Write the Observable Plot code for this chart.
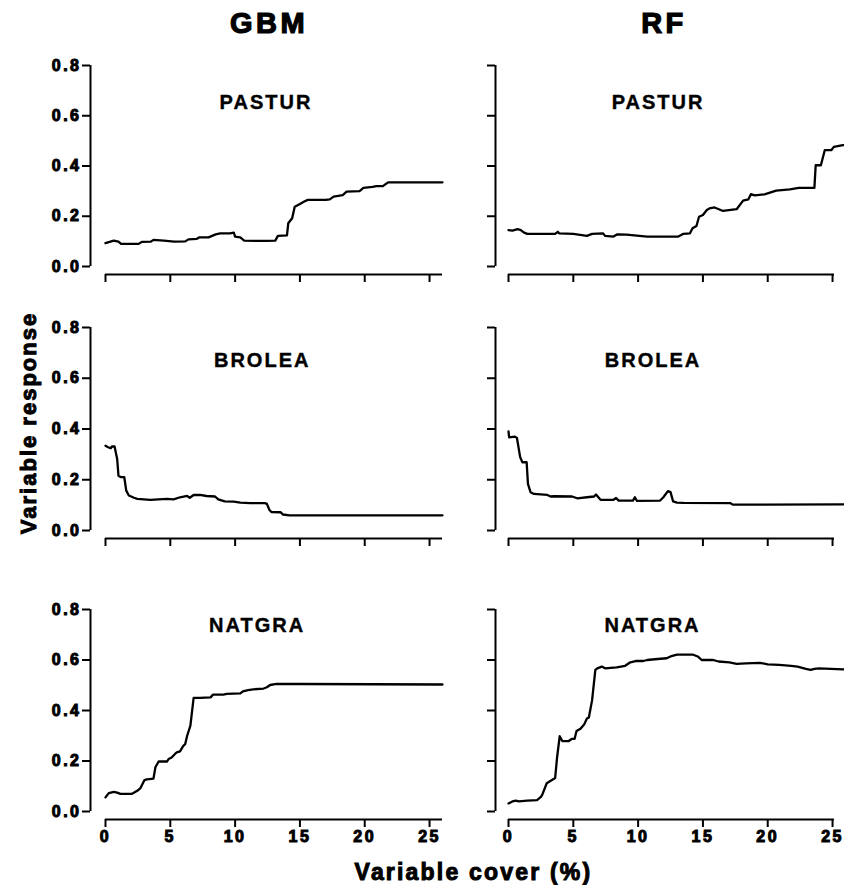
<!DOCTYPE html>
<html><head><meta charset="utf-8">
<script src="https://cdn.jsdelivr.net/npm/d3@7"></script>
<script src="https://cdn.jsdelivr.net/npm/@observablehq/plot@0.6"></script>
<style>
html,body{margin:0;padding:0;background:#fff;}
#chart{position:relative;width:844px;height:885px;overflow:hidden;background:#fff;}
#chart svg{position:absolute;}
svg text{font-family:"Liberation Sans",Arial,Helvetica,sans-serif;font-weight:bold;}
</style>
</head><body>
<div id="chart"></div>
<script>
// ---- data ----
const models = ["GBM", "RF"];
const variables = ["PASTUR", "BROLEA", "NATGRA"];
const xTicks = [0, 5, 10, 15, 20, 25];
const yTicks = [0, 0.2, 0.4, 0.6, 0.8];
const yTitle = "Variable response";
const xTitle = "Variable cover (%)";

const gbmPastur = [[0,0.093],[0.64,0.103],[1.0,0.099],[1.2,0.09],[2.56,0.09],[2.8,0.098],[3.5,0.099],[3.7,0.106],[4.5,0.103],[5.3,0.099],[6.15,0.1],[6.4,0.108],[7.05,0.11],[7.25,0.116],[7.95,0.116],[8.5,0.128],[8.85,0.132],[9.6,0.132],[9.9,0.135],[10.0,0.119],[10.4,0.116],[10.7,0.103],[11.7,0.102],[12.4,0.102],[13.1,0.103],[13.3,0.122],[14.0,0.124],[14.1,0.172],[14.4,0.192],[14.6,0.238],[15.0,0.249],[15.3,0.258],[15.6,0.265],[17.0,0.265],[17.3,0.267],[17.6,0.278],[18.3,0.284],[18.6,0.298],[19.6,0.3],[19.9,0.313],[20.6,0.317],[20.9,0.32],[21.4,0.32],[21.8,0.335],[26,0.335]];
const rfPastur = [[0,0.145],[0.3,0.143],[0.7,0.149],[0.95,0.145],[1.2,0.135],[1.45,0.13],[3.6,0.13],[3.8,0.138],[3.9,0.132],[5.0,0.13],[6.05,0.122],[6.45,0.13],[7.3,0.132],[7.45,0.122],[8.1,0.119],[8.4,0.128],[9.1,0.127],[10.7,0.119],[13.1,0.119],[13.5,0.13],[14.0,0.132],[14.2,0.152],[14.5,0.161],[14.7,0.198],[15.0,0.205],[15.3,0.225],[15.5,0.231],[15.9,0.235],[16.55,0.221],[17.6,0.228],[18.1,0.262],[18.5,0.267],[18.7,0.288],[19.0,0.283],[19.75,0.287],[20.65,0.302],[21.7,0.307],[22.4,0.313],[23.6,0.313],[23.7,0.403],[24.1,0.403],[24.4,0.463],[24.9,0.463],[25.1,0.476],[25.8,0.483],[26,0.483]];
const gbmBrolea = [[0,0.334],[0.2,0.328],[0.4,0.324],[0.5,0.331],[0.7,0.331],[0.9,0.282],[1.0,0.216],[1.2,0.21],[1.45,0.21],[1.6,0.157],[1.8,0.138],[2.2,0.129],[2.45,0.125],[3.45,0.121],[4.75,0.125],[5.25,0.123],[5.75,0.131],[6.3,0.136],[6.5,0.129],[6.8,0.14],[7.3,0.14],[7.8,0.136],[8.45,0.134],[8.7,0.123],[9.2,0.115],[9.9,0.114],[10.4,0.11],[11.15,0.108],[12.3,0.108],[12.45,0.105],[12.65,0.081],[12.8,0.073],[13.5,0.072],[13.7,0.063],[14.2,0.06],[26,0.06]];
const rfBrolea = [[0,0.391],[0.05,0.367],[0.5,0.37],[0.65,0.365],[0.9,0.289],[1.07,0.269],[1.4,0.269],[1.5,0.184],[1.7,0.151],[1.97,0.144],[3.0,0.14],[3.25,0.134],[3.5,0.135],[4.9,0.134],[5.3,0.127],[6.05,0.131],[6.6,0.134],[6.75,0.142],[7.1,0.121],[8.1,0.121],[8.3,0.128],[8.5,0.118],[9.6,0.118],[9.75,0.131],[9.9,0.117],[11.7,0.118],[11.95,0.131],[12.3,0.155],[12.5,0.151],[12.7,0.115],[13.0,0.11],[13.5,0.109],[17.1,0.108],[17.3,0.102],[25.8,0.103],[26,0.103]];
const gbmNatgra = [[0,0.056],[0.25,0.073],[0.65,0.078],[0.9,0.075],[1.15,0.07],[2.05,0.07],[2.45,0.082],[2.7,0.093],[3.0,0.124],[3.2,0.127],[3.7,0.13],[3.85,0.175],[4.1,0.198],[4.75,0.198],[4.87,0.208],[5.1,0.214],[5.4,0.23],[5.5,0.234],[5.75,0.238],[6.0,0.26],[6.15,0.267],[6.3,0.3],[6.55,0.34],[6.8,0.45],[7.3,0.45],[8.1,0.452],[8.3,0.463],[9.1,0.463],[9.35,0.466],[10.4,0.468],[10.6,0.476],[11.0,0.481],[11.4,0.484],[12.2,0.487],[12.45,0.492],[12.7,0.501],[13.2,0.505],[15.0,0.505],[26,0.503]];
const rfNatgra = [[0,0.032],[0.3,0.04],[0.56,0.043],[0.8,0.04],[1.45,0.043],[2.2,0.045],[2.5,0.058],[2.6,0.066],[2.95,0.112],[3.2,0.12],[3.6,0.133],[3.75,0.215],[3.95,0.298],[4.15,0.279],[4.65,0.279],[4.9,0.288],[5.1,0.288],[5.25,0.319],[5.55,0.328],[5.85,0.346],[6.05,0.368],[6.2,0.372],[6.45,0.441],[6.7,0.561],[6.85,0.567],[7.2,0.574],[7.45,0.567],[8.35,0.571],[9.0,0.577],[9.4,0.591],[9.8,0.596],[10.4,0.596],[10.7,0.6],[11.3,0.603],[12.2,0.607],[12.5,0.614],[13.0,0.621],[14.25,0.621],[14.6,0.614],[14.9,0.6],[15.8,0.6],[16.2,0.594],[17.05,0.591],[17.6,0.585],[18.3,0.587],[19.4,0.589],[20.0,0.583],[20.9,0.581],[21.8,0.577],[22.3,0.574],[22.95,0.565],[23.3,0.561],[23.6,0.565],[23.95,0.567],[25.8,0.563],[26,0.563]];

const seriesGrid = [[gbmPastur, rfPastur], [gbmBrolea, rfBrolea], [gbmNatgra, rfNatgra]];

// ---- layout ----
const cols = [
  {left: 0, width: 450, marginLeft: 90, inset: 15, marginRight: 8, axisEnd: 26, titleX: [12.38, 12.09, 11.7]},
  {left: 440, width: 410, marginLeft: 55, inset: 13, marginRight: 5, axisEnd: 25.15, titleX: [11.54, 11.15, 11.11]}
];
const rows = [
  {top: 40, height: 260, marginTop: 25, marginBottom: 34, titleY: 0.653},
  {top: 300, height: 260, marginTop: 27, marginBottom: 30, titleY: 0.669},
  {top: 580, height: 280, marginTop: 29, marginBottom: 49, titleY: 0.735}
];

const chart = document.getElementById("chart");

rows.forEach((r, ri) => {
  cols.forEach((c, ci) => {
    const data = seriesGrid[ri][ci];
    const p = Plot.plot({
      width: c.width, height: r.height,
      marginLeft: c.marginLeft, marginRight: c.marginRight,
      marginTop: r.marginTop, marginBottom: r.marginBottom,
      insetLeft: c.inset, insetRight: 0, insetTop: 0, insetBottom: 0,
      x: {domain: [0, 26]},
      y: {domain: [0, 0.8]},
      style: {background: "transparent", color: "#000", fontSize: "16px", overflow: "visible"},
      marks: [
        Plot.ruleX([0], {y1: 0, y2: 0.8, dx: -c.inset, strokeWidth: 2}),
        Plot.axisY({ticks: yTicks, tickSize: 8, tickPadding: 1, strokeWidth: 2, label: null, fontSize: 16,
          tickFormat: ci === 0 ? (d => d.toFixed(1)) : (() => "")}),
        Plot.ruleY([0], {x1: 0, x2: c.axisEnd, dy: 8, strokeWidth: 2}),
        Plot.axisX({ticks: xTicks, tickSize: 8, tickPadding: 3, dy: 8, strokeWidth: 2, label: null, fontSize: 16,
          tickFormat: ri === 2 ? (d => String(d)) : (() => "")}),
        Plot.line(data, {x: d => d[0], y: d => d[1], stroke: "#000", strokeWidth: 2.3, strokeLinejoin: "round"}),
        Plot.text([variables[ri]], {x: c.titleX[ri], y: r.titleY, text: d => d, fontSize: 20, fontWeight: "bold",
          textAnchor: "middle", lineAnchor: "middle", fill: "#000", stroke: "#000", strokeWidth: 0.4})
      ]
    });
    // heavier, wider tick labels; spaced panel titles
    d3.select(p).selectAll("text").each(function() {
      const t = this.textContent;
      if (/^[0-9.]+$/.test(t)) {
        d3.select(this).style("letter-spacing", "2.5px").attr("stroke", "#000").attr("stroke-width", 1)
          .style("font-weight", "bold");
      } else if (variables.includes(t)) {
        d3.select(this).style("letter-spacing", "2px");
      }
    });
    p.style.left = c.left + "px";
    p.style.top = r.top + "px";
    chart.appendChild(p);
  });
});

// overlay titles
const svg = d3.select(chart).append("svg")
  .attr("width", 844).attr("height", 885)
  .style("left", "0px").style("top", "0px").style("pointer-events", "none");
const heavy = sel => sel.attr("fill", "#000").attr("stroke", "#000").attr("font-weight", "bold")
  .attr("font-family", "'Liberation Sans', Arial, Helvetica, sans-serif");
heavy(svg.append("text").attr("x", 269).attr("y", 33).attr("text-anchor", "middle")
  .attr("font-size", 29).attr("stroke-width", 1.2).style("letter-spacing", "3.5px").text(models[0]));
heavy(svg.append("text").attr("x", 664).attr("y", 33).attr("text-anchor", "middle")
  .attr("font-size", 29).attr("stroke-width", 1.2).style("letter-spacing", "3.5px").text(models[1]));
heavy(svg.append("text").attr("transform", "translate(35.5,423) rotate(-90)").attr("text-anchor", "middle")
  .attr("font-size", 22).attr("stroke-width", 1).style("letter-spacing", "2px").text(yTitle));
heavy(svg.append("text").attr("x", 473.5).attr("y", 880).attr("text-anchor", "middle")
  .attr("font-size", 23).attr("stroke-width", 1).style("letter-spacing", "2.2px").text(xTitle));
</script>
</body></html>
